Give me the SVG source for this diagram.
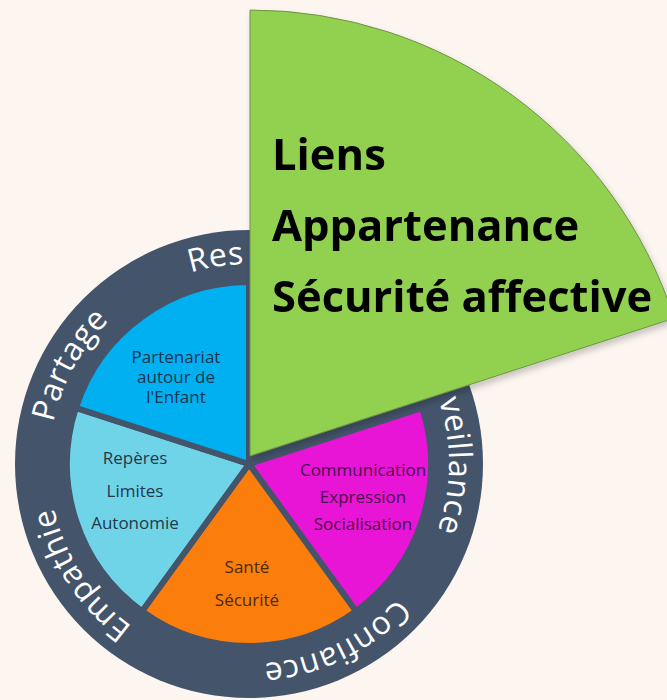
<svg xmlns="http://www.w3.org/2000/svg" width="667" height="700" viewBox="0 0 667 700">
<defs>
<style>
.ring{font-family:"Open Sans","DejaVu Sans",sans-serif;font-size:32px;fill:#ffffff;letter-spacing:0.5px}
.lbl{font-family:"Open Sans","DejaVu Sans",sans-serif;font-size:17px;text-anchor:middle}
.big{font-family:"Open Sans","DejaVu Sans",sans-serif;font-size:43.5px;font-weight:bold;fill:#000000}
.slice{stroke:#44546A;stroke-width:6;stroke-linejoin:round}
</style>
<path id="ringPath" d="M249,264 A200,200 0 1 1 249,664 A200,200 0 1 1 249,264"/>
<filter id="sh" x="-10%" y="-10%" width="130%" height="130%">
<feDropShadow dx="2" dy="4" stdDeviation="3" flood-color="#000000" flood-opacity="0.2"/>
</filter>
</defs>
<rect width="667" height="700" fill="#FCF5F0"/>
<g id="wheel">
<circle cx="249" cy="464" r="234" fill="#44546A"/>
</g>
<g id="ring-labels">
<text class="ring"><textPath href="#ringPath" startOffset="1196.9">Res</textPath></text>
<text class="ring"><textPath href="#ringPath" startOffset="249.2">veillance</textPath></text>
<text class="ring" text-anchor="middle"><textPath href="#ringPath" startOffset="537.2">Confiance</textPath></text>
<text class="ring" text-anchor="middle"><textPath href="#ringPath" startOffset="825.5">Empathie</textPath></text>
<text class="ring" text-anchor="middle"><textPath href="#ringPath" startOffset="1043">Partage</textPath></text>
</g>
<g id="slice-communication">
<path class="slice" fill="#E815D6" d="M249,464 L422.1,407.8 A182,182 0 0 1 356,611.2 Z"/>
<text class="lbl" fill="#4A0F4A"><tspan x="363" y="476">Communication</tspan><tspan x="363" y="503">Expression</tspan><tspan x="363" y="530">Socialisation</tspan></text>
</g>
<g id="slice-sante">
<path class="slice" fill="#FB7D0C" d="M249,464 L356,611.2 A182,182 0 0 1 142,611.2 Z"/>
<text class="lbl" fill="#4A2A0A"><tspan x="247" y="573">Santé</tspan><tspan x="247" y="606">Sécurité</tspan></text>
</g>
<g id="slice-reperes">
<path class="slice" fill="#70D4E8" d="M249,464 L142,611.2 A182,182 0 0 1 75.9,407.8 Z"/>
<text class="lbl" fill="#24384A"><tspan x="135" y="464">Repères</tspan><tspan x="135" y="497">Limites</tspan><tspan x="135" y="529">Autonomie</tspan></text>
</g>
<g id="slice-partenariat">
<path class="slice" fill="#00B0F0" d="M249,464 L75.9,407.8 A182,182 0 0 1 249,282 Z"/>
<text class="lbl" fill="#1C3450"><tspan x="176" y="363">Partenariat</tspan><tspan x="176" y="383">autour de</tspan><tspan x="176" y="403">l'Enfant</tspan></text>
</g>
<g id="slice-liens" filter="url(#sh)">
<path fill="#92D050" stroke="#6E9444" stroke-width="1" d="M250,456 L250,10 A446,446 0 0 1 674.2,318.2 Z"/>
<text class="big"><tspan x="272" y="170">Liens</tspan><tspan x="272" y="241">Appartenance</tspan><tspan x="272" y="312">Sécurité affective</tspan></text>
</g>
</svg>
